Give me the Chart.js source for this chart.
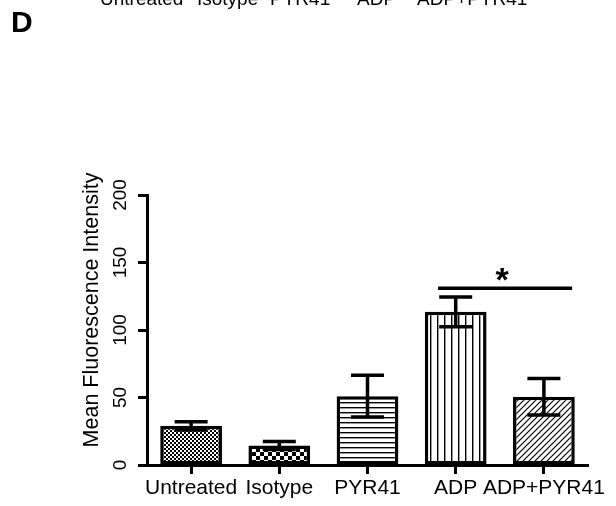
<!DOCTYPE html>
<html>
<head>
<meta charset="utf-8">
<script src="https://cdn.jsdelivr.net/npm/chart.js@4.4.1/dist/chart.umd.min.js"></script>
<style>
  html, body { margin: 0; padding: 0; background: #fff; }
  #wrap { width: 616px; height: 506px; position: relative; }
</style>
</head>
<body>
<div id="wrap"><canvas id="c" width="616" height="506"></canvas></div>
<script>
// ---- data ----
const categories = ['Untreated', 'Isotype', 'PYR41', 'ADP', 'ADP+PYR41'];
const meanValues = [29, 14.5, 51, 113.5, 50.5];
const semValues  = [3, 3, 15.5, 11, 13.5];
const yTicks     = [0, 50, 100, 150, 200];
const yTitle     = 'Mean Fluorescence Intensity';
const sigFrom    = [2.8];   // category coordinate where the significance bar starts
const sigTo      = [4.32];  // category coordinate where it ends
const sigLevel   = [131];   // value at which it is drawn
const sigMark    = '*';
const panelLabel = 'D';
const topWords   = ['Untreated', 'Isotype', 'PYR41', 'ADP', 'ADP+PYR41'];

const FONT = '"Liberation Sans", Arial, sans-serif';
const canvas = document.getElementById('c');
const ctx = canvas.getContext('2d');

function makePattern(w, h, draw) {
  const c = document.createElement('canvas');
  c.width = w; c.height = h;
  const g = c.getContext('2d');
  g.fillStyle = '#fff'; g.fillRect(0, 0, w, h);
  g.fillStyle = '#000'; g.strokeStyle = '#000';
  draw(g, w, h);
  return ctx.createPattern(c, 'repeat');
}
const patterns = [
  makePattern(4, 4, g => { g.fillRect(0, 0, 2, 2); g.fillRect(2, 2, 2, 2); }),
  makePattern(8, 8, g => { g.fillRect(0, 0, 4, 4); g.fillRect(4, 4, 4, 4); }),
  makePattern(5, 5, g => { g.fillRect(0, 2, 5, 1.4); }),
  makePattern(7, 4, g => { g.fillRect(3, 0, 1.4, 4); }),
  makePattern(6, 6, (g, w, h) => {
    g.lineWidth = 1.2;
    g.beginPath();
    g.moveTo(-1, 7); g.lineTo(7, -1);
    g.moveTo(-1, 1); g.lineTo(1, -1);
    g.moveTo(5, 7); g.lineTo(7, 5);
    g.stroke();
  })
];

const extrasPlugin = {
  id: 'extras',
  afterDatasetsDraw(chart) {
    const c = chart.ctx;
    const y = chart.scales.y;
    const meta = chart.getDatasetMeta(0);
    c.save();
    c.strokeStyle = '#000';
    c.lineWidth = 3.5;
    c.lineCap = 'butt';
    meta.data.forEach((bar, i) => {
      const hi = y.getPixelForValue(meanValues[i] + semValues[i]);
      const lo = y.getPixelForValue(meanValues[i] - semValues[i]);
      const half = 16.5;
      c.beginPath();
      c.moveTo(bar.x, hi); c.lineTo(bar.x, lo);
      c.moveTo(bar.x - half, hi); c.lineTo(bar.x + half, hi);
      c.moveTo(bar.x - half, lo); c.lineTo(bar.x + half, lo);
      c.stroke();
    });
    const lm = chart.getDatasetMeta(1);
    const mx = (lm.data[0].x + lm.data[1].x) / 2;
    const my = lm.data[0].y;
    c.fillStyle = '#000';
    c.font = 'bold 34px ' + FONT;
    c.textAlign = 'center';
    c.textBaseline = 'alphabetic';
    c.fillText(sigMark, mx - 3, my + 3);
    c.restore();
  },
  afterDraw(chart) {
    const c = chart.ctx;
    c.save();
    c.fillStyle = '#000';
    c.translate(92, 310);
    c.rotate(-Math.PI / 2);
    c.font = '21.5px ' + FONT;
    c.textAlign = 'center';
    c.textBaseline = 'middle';
    c.fillText(yTitle, 0, 0);
    c.restore();
    c.save();
    c.fillStyle = '#000';
    c.font = 'bold 30px ' + FONT;
    c.textAlign = 'left';
    c.textBaseline = 'alphabetic';
    c.fillText(panelLabel, 11, 32);
    c.font = '19px ' + FONT;
    const xs = [100, 197, 270, 357, 417];
    topWords.forEach((w, i) => c.fillText(w, xs[i], 5));
    c.restore();
  }
};

new Chart(ctx, {
  type: 'bar',
  data: {
    labels: categories,
    datasets: [
      {
        label: yTitle,
        data: meanValues,
        backgroundColor: patterns,
        borderColor: '#000',
        borderWidth: 3.5,
        borderSkipped: false,
        grouped: false,
        barPercentage: 0.7,
        categoryPercentage: 1.0
      },
      {
        type: 'line',
        label: 'significance',
        xAxisID: 'x2',
        data: [{ x: sigFrom[0], y: sigLevel[0] }, { x: sigTo[0], y: sigLevel[0] }],
        borderColor: '#000',
        borderWidth: 3.5,
        pointRadius: 0,
        fill: false
      }
    ]
  },
  options: {
    responsive: false,
    animation: false,
    devicePixelRatio: 1,
    layout: { padding: { left: 0, top: 195, right: 28, bottom: 0 } },
    plugins: { legend: { display: false }, tooltip: { enabled: false } },
    scales: {
      x: {
        type: 'category',
        offset: true,
        grid: { display: true, drawOnChartArea: false, offset: false, tickLength: 9, tickWidth: 3, tickColor: '#000' },
        border: { display: true, color: '#000', width: 3 },
        ticks: { color: '#000', font: { family: FONT, size: 21 }, padding: 2, maxRotation: 0, minRotation: 0, autoSkip: false },
        afterFit: s => { s.height = 41; }
      },
      x2: {
        type: 'linear',
        display: false,
        offset: false,
        grid: { offset: false },
        min: -0.5,
        max: 4.5
      },
      y: {
        min: 0,
        max: 200,
        afterBuildTicks: s => { s.ticks = yTicks.map(v => ({ value: v })); },
        grid: { display: true, drawOnChartArea: false, tickLength: 9, tickWidth: 3, tickColor: '#000' },
        border: { display: true, color: '#000', width: 3 },
        ticks: { color: '#000', font: { family: FONT, size: 19 }, padding: 1, crossAlign: 'center', minRotation: 90, maxRotation: 90 },
        afterFit: s => { s.width = 147; }
      }
    }
  },
  plugins: [extrasPlugin]
});
</script>
</body>
</html>
